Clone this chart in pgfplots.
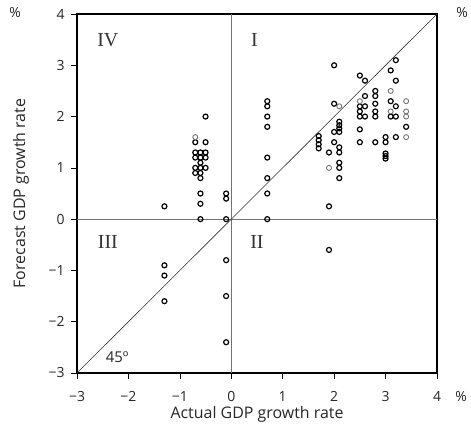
\documentclass[border=0pt]{standalone}
\usepackage{pgfplots}
\pgfplotsset{compat=1.18}
\usepackage{fontspec}
\setmainfont{Open Sans}
\newfontfamily\romfont{Liberation Serif}
\definecolor{qline}{gray}{0.45}
\definecolor{lightmark}{gray}{0.45}
\begin{document}
\begin{tikzpicture}
\useasboundingbox (-77bp,-59bp) rectangle (394bp,373bp);
\begin{axis}[
  scale only axis, width=360bp, height=359bp,
  xmin=-3, xmax=4, ymin=-3, ymax=4,
  xtick={-3,...,4}, ytick={-3,...,4},
  xticklabels={−3,−2,−1,0,1,2,3,4},
  yticklabels={−3,−2,−1,0,1,2,3,4},
  xtick pos=bottom, ytick pos=left,
  tick align=outside, major tick length=6bp,
  tick style={black, line width=0.7pt},
  axis line style={black, line width=1.6pt},
  ticklabel style={font=\fontsize{14}{16}\selectfont, text=black!85},
  xticklabel style={yshift=-9bp},
  yticklabel style={xshift=-3bp},
  label style={font=\fontsize{16}{18}\selectfont, text=black!85},
  xlabel={Actual GDP growth rate},
  ylabel={Forecast GDP growth rate},
  xlabel style={at={(axis description cs:0.5,0)}, anchor=center, yshift=-41bp},
  ylabel style={at={(axis description cs:0,0.5)}, anchor=center, rotate=0, yshift=56bp},
  clip=false,
]
% quadrant lines
\addplot[qline, line width=1.1pt, no markers] coordinates {(0,-3) (0,4)};
\addplot[qline, line width=1.1pt, no markers] coordinates {(-3,0) (4,0)};
% 45 degree line
\addplot[black!80, line width=0.6pt, no markers] coordinates {(-3,-3) (4,4)};
% data (dark)
\addplot[only marks, mark=o, mark size=2.5bp, mark options={line width=1.2pt, black}] coordinates {
(-1.3,0.25) (-1.3,-0.9) (-1.3,-1.1) (-1.3,-1.6)
(-0.7,1.5) (-0.7,1.3) (-0.7,1.2) (-0.7,1.0) (-0.7,0.9)
(-0.6,1.3) (-0.6,1.2) (-0.6,1.1) (-0.6,1.0) (-0.6,0.9) (-0.6,0.8) (-0.6,0.5) (-0.6,0.3) (-0.6,0)
(-0.5,2.0) (-0.5,1.5) (-0.5,1.3) (-0.5,1.2) (-0.5,1.0)
(-0.1,0.5) (-0.1,0.4) (-0.1,0) (-0.1,-0.8) (-0.1,-1.5) (-0.1,-2.4)
(0.7,2.3) (0.7,2.2) (0.7,2.0) (0.7,1.8) (0.7,1.2) (0.7,0.8) (0.7,0.5) (0.7,0)
(1.7,1.62) (1.7,1.54) (1.7,1.46) (1.7,1.38)
(1.9,1.3) (1.9,0.25) (1.9,-0.6)
(2.0,3.0) (2.0,2.25) (2.0,1.7) (2.0,1.5)
(2.1,1.9) (2.1,1.83) (2.1,1.77) (2.1,1.7) (2.1,1.4) (2.1,1.3) (2.1,1.1) (2.1,1.0) (2.1,0.8)
(2.5,2.8) (2.5,2.2) (2.5,2.1) (2.5,2.0) (2.5,1.75) (2.5,1.5)
(2.6,2.7) (2.6,2.4) (2.6,2.2) (2.6,2.0)
(2.8,2.5) (2.8,2.4) (2.8,2.25) (2.8,2.1) (2.8,2.0) (2.8,1.5)
(3.0,1.6) (3.0,1.5) (3.0,1.28) (3.0,1.23) (3.0,1.18)
(3.1,2.9) (3.1,2.3) (3.1,2.0)
(3.2,3.1) (3.2,2.7) (3.2,2.2) (3.2,2.0) (3.2,1.6)
(3.4,1.8)
};
% data (lighter)
\addplot[only marks, mark=o, mark size=2.5bp, mark options={line width=0.9pt, lightmark}] coordinates {
(-0.7,1.6) (1.9,1.0) (2.1,2.2) (2.5,2.3) (3.1,2.5) (3.1,2.1) (3.4,2.3) (3.4,2.1) (3.4,2.0) (3.4,1.6)
};
% quadrant labels
\node[font=\romfont\fontsize{20}{22}\selectfont, text=black!80] at (axis cs:-2.4,3.5) {IV};
\node[font=\romfont\fontsize{20}{22}\selectfont, text=black!80] at (axis cs:0.45,3.5) {I};
\node[font=\romfont\fontsize{20}{22}\selectfont, text=black!80] at (axis cs:-2.4,-0.45) {III};
\node[font=\romfont\fontsize{20}{22}\selectfont, text=black!80] at (axis cs:0.5,-0.45) {II};
\node[font=\fontsize{15}{17}\selectfont, text=black!85] at (axis cs:-2.22,-2.69) {45º};
% percent signs
\node[font=\fontsize{14}{16}\selectfont, text=black!85] at (axis description cs:0,1) [xshift=-62bp, yshift=1bp] {\%};
\node[font=\fontsize{14}{16}\selectfont, text=black!85] at (axis description cs:1,1) [xshift=25bp, yshift=1bp] {\%};
\node[font=\fontsize{14}{16}\selectfont, text=black!85] at (axis description cs:1,0) [xshift=24bp, yshift=-24bp] {\%};
\end{axis}
\end{tikzpicture}
\end{document}
